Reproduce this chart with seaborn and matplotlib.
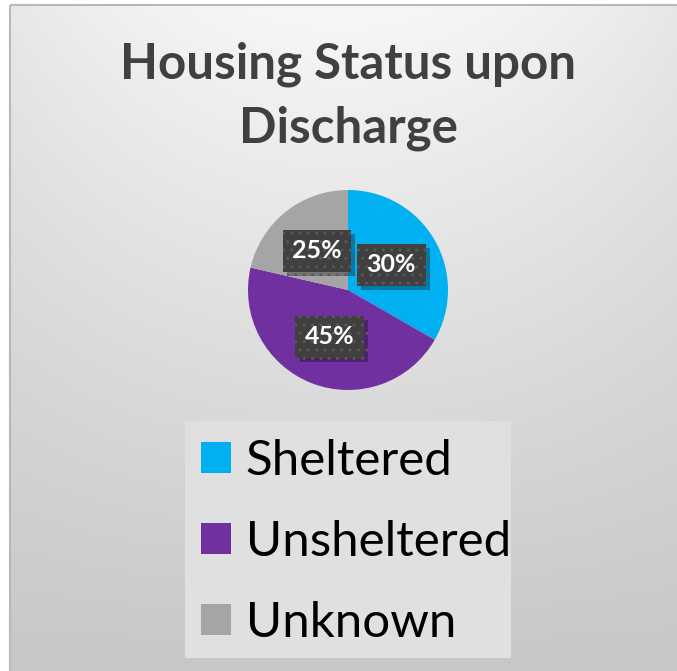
import numpy as np
import matplotlib
matplotlib.use("Agg")
import matplotlib.pyplot as plt
import matplotlib.patheffects as pe
from matplotlib.patches import Rectangle
import seaborn as sns

# datos
categorias = ["Sheltered", "Unsheltered", "Unknown"]
porciones = [33.3, 45.3, 21.4]
etiquetas = ["30%", "45%", "25%"]       # texto que aparece en las cajas
colores = ["#00B0F0", "#7030A0", "#A5A5A5"]

sns.set_theme(style="white")
plt.rcParams["font.family"] = ["Lato", "DejaVu Sans"]

W, H = 677, 671
fig = plt.figure(figsize=(W / 100, H / 100), dpi=100)
fig.patch.set_facecolor("white")

# Fondo con degradado
fondo = fig.add_axes([0, 0, 1, 1], zorder=-10)
fondo.set_xlim(0, W)
fondo.set_ylim(H, 0)
fondo.axis("off")
yy, xx = np.mgrid[0:H - 5, 0:W - 10]
yy = yy / (H - 5)
xx = (xx - 330) / 340
val = 247 - 48 * yy - 16 * xx ** 2 * (1 - yy)
img = np.dstack([val, val, val]) / 255
fondo.imshow(img, extent=[10, W, H, 5], aspect="auto", interpolation="bilinear")
fondo.add_patch(Rectangle((10, 5), W, H, fill=False, ec="#b8b8b8", lw=1.5))
# caja de la leyenda
fondo.add_patch(Rectangle((185, 421), 326, 237, fc="#e0e0e0", ec="none"))

# Titulo
fig.text(348 / W, 1 - 96 / H, "Housing Status upon\nDischarge", ha="center", va="center",
         fontsize=35.5, fontweight="bold", color="#404040", linespacing=1.5)

# Torta
cx, cy, r = 348, 290, 100
ax = fig.add_axes([(cx - r) / W, 1 - (cy + r) / H, 2 * r / W, 2 * r / H])
cunas, _ = ax.pie(porciones, colors=colores, startangle=90, counterclock=False,
                  radius=1, wedgeprops=dict(linewidth=0))
ax.set_xlim(-1, 1)
ax.set_ylim(-1, 1)
ax.set_aspect("equal")
ax.axis("off")

for cuna, txt in zip(cunas, etiquetas):
    ang = np.deg2rad((cuna.theta1 + cuna.theta2) / 2)
    t = ax.text(0.5 * np.cos(ang), 0.5 * np.sin(ang), txt, ha="center", va="center",
                color="white", fontsize=18, fontweight="bold")
    t.set_bbox(dict(boxstyle="square,pad=0.38", fc="#404040", ec="#585858", lw=0, hatch=".."))
    t.get_bbox_patch().set_path_effects([
        pe.SimplePatchShadow(offset=(3, -3), shadow_rgbFace="black", alpha=0.3), pe.Normal()])

# Leyenda
ley = fig.legend(cunas, categorias, loc="center", bbox_to_anchor=(356 / W, 1 - 542 / H),
                 fontsize=35.5, frameon=False, handlelength=0.61, handleheight=0.61,
                 handletextpad=0.3, labelspacing=0.75, borderpad=0, labelcolor="black")

fig.savefig("out.png", dpi=100)
